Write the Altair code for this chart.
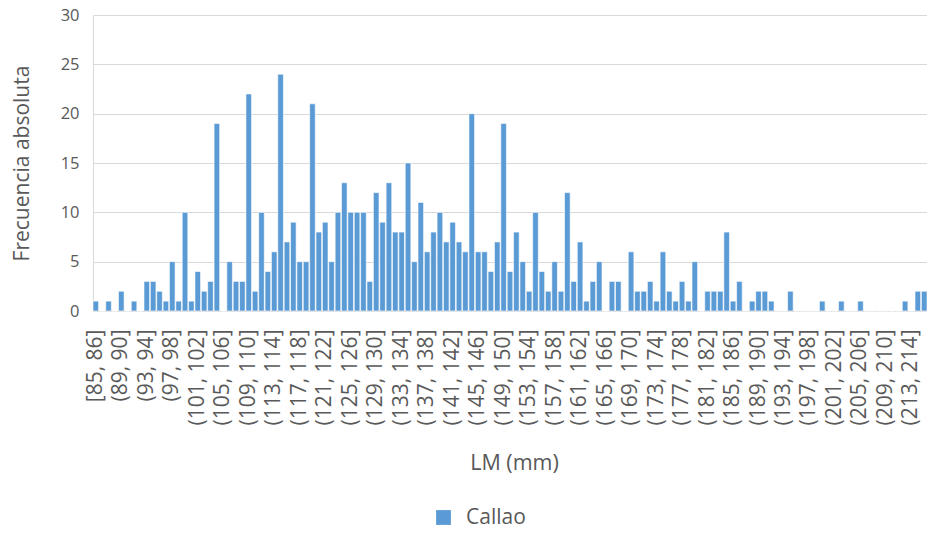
import altair as alt
import pandas as pd

# Histogram of LM (mm), bins of width 1 starting at [85, 86]
bin_lower = list(range(85, 216))
counts = [
    1, 0, 1, 0, 2, 0, 1, 0, 3, 3,
    2, 1, 5, 1, 10, 1, 4, 2, 3, 19,
    0, 5, 3, 3, 22, 2, 10, 4, 6, 24,
    7, 9, 5, 5, 21, 8, 9, 5, 10, 13,
    10, 10, 10, 3, 12, 9, 13, 8, 8, 15,
    5, 11, 6, 8, 10, 7, 9, 7, 6, 20,
    6, 6, 4, 7, 19, 4, 8, 5, 2, 10,
    4, 2, 5, 2, 12, 3, 7, 1, 3, 5,
    0, 3, 3, 0, 6, 2, 2, 3, 1, 6,
    2, 1, 3, 1, 5, 0, 2, 2, 2, 8,
    1, 3, 0, 1, 2, 2, 1, 0, 0, 2,
    0, 0, 0, 0, 1, 0, 0, 1, 0, 0,
    1, 0, 0, 0, 0, 0, 0, 1, 0, 2,
    2,
]
labels = [("[" if i == 0 else "(") + f"{lo}, {lo + 1}]" for i, lo in enumerate(bin_lower)]
shown_labels = labels[::4]
y_ticks = [0, 5, 10, 15, 20, 25, 30]
series_name = "Callao"

df = pd.DataFrame({"bin": labels, "count": counts, "serie": series_name})

FONT = "Open Sans"
GRAY = "#595959"
PLOT_W = 834

chart = alt.Chart(df).mark_bar(stroke="white", strokeWidth=0.6).encode(
    x=alt.X(
        "bin:N",
        sort=labels,
        scale=alt.Scale(paddingInner=0.12, paddingOuter=0),
        axis=alt.Axis(
            values=shown_labels,
            labelAngle=-90,
            labelFontSize=21,
            labelFont=FONT,
            labelColor=GRAY,
            labelPadding=18,
            ticks=False,
            domainColor="#d9d9d9",
            domainWidth=1,
            grid=False,
            title="LM (mm)",
            titleFont=FONT,
            titleFontSize=21.5,
            titleFontWeight="normal",
            titleColor=GRAY,
            titleX=421,
            titleY=152,
            titleBaseline="middle",
            titleAlign="center",
            labelOverlap=False,
        ),
    ),
    y=alt.Y(
        "count:Q",
        scale=alt.Scale(domain=[0, 30], nice=False),
        axis=alt.Axis(
            values=y_ticks,
            labelFontSize=16.5,
            labelFont=FONT,
            labelColor=GRAY,
            labelPadding=14,
            ticks=False,
            domainColor="#d9d9d9",
            domainWidth=1,
            gridColor="#d9d9d9",
            gridWidth=1,
            title="Frecuencia absoluta",
            titleFont=FONT,
            titleFontSize=21,
            titleFontWeight="normal",
            titleColor=GRAY,
            titleX=-71,
            titleY=148,
            titleAngle=270,
            titleBaseline="middle",
            titleAlign="center",
        ),
    ),
    color=alt.Color(
        "serie:N",
        scale=alt.Scale(domain=[series_name], range=["#5b9bd5"]),
        legend=alt.Legend(
            orient="none",
            legendX=340,
            legendY=492,
            title=None,
            symbolType="square",
            symbolSize=220,
            symbolStrokeWidth=0,
            labelFont=FONT,
            labelFontSize=21,
            labelColor=GRAY,
            labelOffset=12,
        ),
    ),
).properties(
    width=PLOT_W,
    height=296,
    padding={"left": 85, "top": 7, "right": 0, "bottom": 219},
    autosize=alt.AutoSizeParams(type="none"),
).configure_view(stroke=None)

chart.save("out.html", embed_options={"renderer": "svg", "actions": False})
